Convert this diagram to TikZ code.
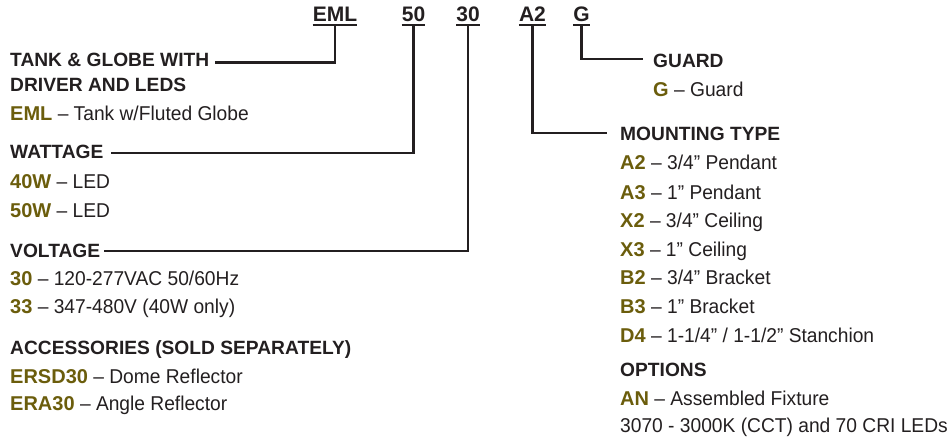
\documentclass[tikz,border=0pt]{standalone}
\usepackage{fontspec}
\setmainfont{Liberation Sans}
\newfontfamily\itemfont{Liberation Sans}[FakeStretch=0.96,Ligatures=TeX]
\definecolor{ink}{HTML}{231F20}
\definecolor{codeol}{HTML}{6B5D0C}
\newcommand\cd[1]{{\normalfont\fontsize{20}{24}\selectfont\bfseries\textcolor{codeol}{#1}}}
\begin{document}
\begin{tikzpicture}[x=1pt,y=-1pt,
  hdr/.style={anchor=base west, inner sep=0pt, font=\fontsize{19.2}{23}\selectfont\bfseries, text=ink},
  item/.style={anchor=base west, inner sep=0pt, font=\itemfont\fontsize{20}{24}\selectfont, text=ink},
  code/.style={anchor=base, inner sep=0pt, font=\fontsize{21}{25}\selectfont\bfseries, text=ink},
  conn/.style={draw=ink, line width=2.3pt},
  ul/.style={draw=ink, line width=1.8pt}]
\useasboundingbox (0,0) rectangle (948,441);

% top code
\node[code] (cEML) at (335,22) {EML};
\node[code] (c50) at (413.5,22) {50};
\node[code] (c30) at (468,22) {30};
\node[code] (cA2) at (532.5,22) {A2};
\node[code] (cG) at (581.5,22) {G};
\foreach \n in {cEML,c50,c30,cA2,cG}
  \draw[ul] ([yshift=-3pt]\n.base west) -- ([yshift=-3pt]\n.base east);

% left column
\node[hdr] (tank1) at (10,67) {TANK \& GLOBE WITH};
\node[hdr] (tank2) at (10,92) {DRIVER AND LEDS};
\node[item] (eml) at (10,121) {\cd{EML} – Tank w/Fluted Globe};
\node[hdr] (watt) at (10,159) {WATTAGE};
\node[item] (w40) at (10,188) {\cd{40W} – LED};
\node[item] (w50) at (10,217) {\cd{50W} – LED};
\node[hdr] (volt) at (10,257) {VOLTAGE};
\node[item] (v30) at (10,285) {\cd{30} – 120-277VAC 50/60Hz};
\node[item] (v33) at (10,313) {\cd{33} – 347-480V (40W only)};
\node[hdr] (acc) at (10,354) {ACCESSORIES (SOLD SEPARATELY)};
\node[item] (ersd) at (10,383) {\cd{ERSD30} – Dome Reflector};
\node[item] (era) at (10,410) {\cd{ERA30} – Angle Reflector};

% right column
\node[hdr] (guard) at (653,68) {GUARD};
\node[item] (g) at (653,97) {\cd{G} – Guard};
\node[hdr] (mount) at (620,141) {MOUNTING TYPE};
\node[item] (a2) at (620,169) {\cd{A2} – 3/4” Pendant};
\node[item] (a3) at (620,199) {\cd{A3} – 1” Pendant};
\node[item] (x2) at (620,227) {\cd{X2} – 3/4” Ceiling};
\node[item] (x3) at (620,256) {\cd{X3} – 1” Ceiling};
\node[item] (b2) at (620,284) {\cd{B2} – 3/4” Bracket};
\node[item] (b3) at (620,313) {\cd{B3} – 1” Bracket};
\node[item] (d4) at (620,342) {\cd{D4} – 1-1/4” / 1-1/2” Stanchion};
\node[hdr] (opt) at (620,376) {OPTIONS};
\node[item] (an) at (620,405) {\cd{AN} – Assembled Fixture};
\node[item] (cct) at (620,432) {3070 - 3000K (CCT) and 70 CRI LEDs};

% connectors
\draw[conn] ([yshift=-3pt]cEML.base) |- ([xshift=5.5pt,yshift=4.5pt]tank1.base east);
\draw[conn] ([yshift=-3pt]c50.base) |- ([xshift=7pt,yshift=6pt]watt.base east);
\draw[conn] ([yshift=-3pt]c30.base) |- ([xshift=4pt,yshift=6pt]volt.base east);
\draw[conn] ([yshift=-3pt]cA2.base) |- ([xshift=-13pt,yshift=8pt]mount.base west);
\draw[conn] ([yshift=-3pt]cG.base) |- ([xshift=-10pt,yshift=9pt]guard.base west);
\end{tikzpicture}
\end{document}
